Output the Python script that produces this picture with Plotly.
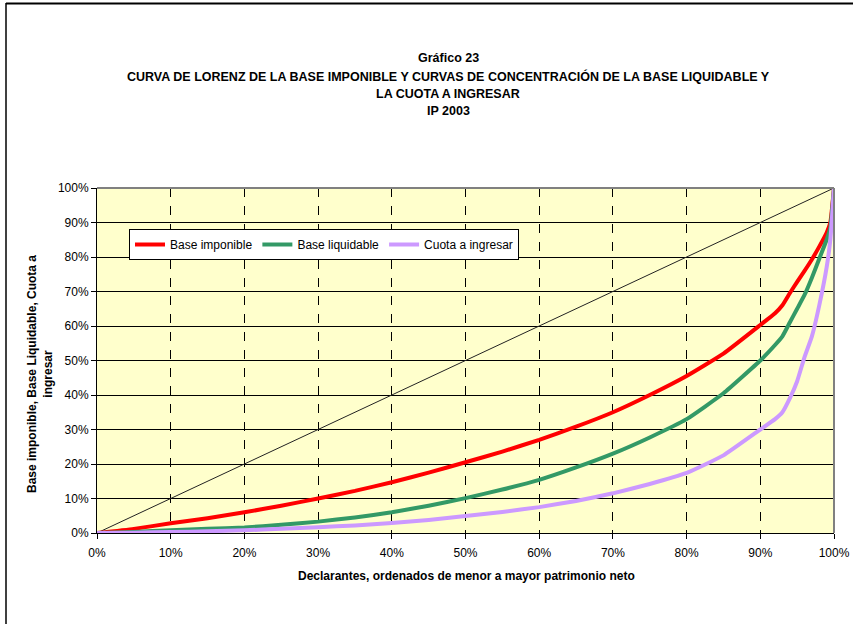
import plotly.graph_objects as go

# Data (percent of declarants vs cumulative percent)
x_pct = [0, 5, 10, 15, 20, 25, 30, 35, 40, 45, 50, 55, 60, 65, 70, 75, 80, 85, 90,
         92, 93, 94, 95, 96, 97, 98, 99, 99.5, 100]
base_imponible = [0, 1.2, 2.8, 4.3, 6.0, 7.9, 10.0, 12.2, 14.7, 17.5, 20.5, 23.6, 27.0, 30.8,
                  35.0, 40.0, 45.5, 52.0, 60.3, 63.7, 66.0, 69.5, 72.8, 76.0, 79.3, 83.0,
                  87.0, 90.0, 100]
base_liquidable = [0, 0.3, 0.8, 1.2, 1.6, 2.4, 3.3, 4.5, 6.0, 7.9, 10.1, 12.6, 15.4, 19.0,
                   23.0, 27.7, 33.0, 40.5, 50.0, 54.5, 57.0, 61.0, 65.0, 69.0, 74.0, 79.5,
                   85.0, 88.5, 100]
cuota = [0, 0.1, 0.3, 0.5, 0.8, 1.2, 1.7, 2.2, 2.9, 3.8, 4.9, 6.1, 7.5, 9.3, 11.5, 14.2,
         17.4, 22.5, 30.0, 33.0, 35.0, 39.0, 44.0, 51.0, 57.0, 66.0, 77.0, 85.0, 100]
diag_x = [0, 100]
diag_y = [0, 100]

title_lines = ["Gráfico 23",
               "CURVA DE LORENZ DE LA BASE IMPONIBLE Y CURVAS DE CONCENTRACIÓN DE LA BASE LIQUIDABLE Y",
               "LA CUOTA A INGRESAR",
               "IP 2003"]
x_title = "Declarantes, ordenados de menor a mayor patrimonio neto"
y_title = "Base imponible, Base Liquidable, Cuota a<br>ingresar"

FONT = "Liberation Sans, Arial, sans-serif"

fig = go.Figure()
fig.add_trace(go.Scatter(x=diag_x, y=diag_y, mode="lines", showlegend=False,
                         line=dict(color="#222222", width=1), hoverinfo="skip"))
fig.add_trace(go.Scatter(x=x_pct, y=base_imponible, mode="lines", name="Base imponible",
                         line=dict(color="#FF0000", width=4, shape="spline", smoothing=0.4)))
fig.add_trace(go.Scatter(x=x_pct, y=base_liquidable, mode="lines", name="Base liquidable",
                         line=dict(color="#339966", width=4, shape="spline", smoothing=0.4)))
fig.add_trace(go.Scatter(x=x_pct, y=cuota, mode="lines", name="Cuota a ingresar",
                         line=dict(color="#CC99FF", width=4, shape="spline", smoothing=0.4)))

W, H = 853, 624
L, R, T, B = 97, 834, 188, 533
pw, ph = R - L, B - T

def px(xp):
    return (xp - L) / pw

def py(yp):
    return (B - yp) / ph

annotations = []
for txt, yy in zip(title_lines, [58, 76, 94, 111]):
    annotations.append(dict(text="<b>%s</b>" % txt, xref="paper", yref="paper",
                            x=px(448), y=py(yy), xanchor="center", yanchor="middle",
                            showarrow=False, font=dict(family=FONT, size=12.5, color="black")))
annotations.append(dict(text="<b>%s</b>" % x_title, xref="paper", yref="paper",
                        x=px(466), y=py(576), xanchor="center", yanchor="middle",
                        showarrow=False, font=dict(family=FONT, size=12, color="black")))
annotations.append(dict(text="<b>%s</b>" % y_title, xref="paper", yref="paper",
                        x=px(40), y=py(374), xanchor="center", yanchor="middle",
                        textangle=-90, showarrow=False,
                        font=dict(family=FONT, size=12, color="black")))

shapes = [
    # outer frame (top & left visible)
    dict(type="line", xref="paper", yref="paper", x0=px(6), x1=px(900), y0=py(3.5), y1=py(3.5),
         line=dict(color="black", width=2)),
    dict(type="line", xref="paper", yref="paper", x0=px(6), x1=px(6), y0=py(3), y1=py(700),
         line=dict(color="black", width=1.5)),
    # plot area top and right borders (gray)
    dict(type="line", xref="paper", yref="paper", x0=0, x1=1, y0=1, y1=1,
         line=dict(color="#808080", width=2)),
    dict(type="line", xref="paper", yref="paper", x0=1, x1=1, y0=0, y1=1,
         line=dict(color="#808080", width=2)),
]

fig.update_layout(
    width=W, height=H, autosize=False,
    margin=dict(l=L, r=W - R, t=T, b=H - B, autoexpand=False),
    paper_bgcolor="white",
    plot_bgcolor="#FFFFCC",
    font=dict(family=FONT, size=12, color="black"),
    annotations=annotations,
    shapes=shapes,
    legend=dict(orientation="h", x=px(129), y=py(229), xanchor="left", yanchor="top",
                bgcolor="white", bordercolor="black", borderwidth=1,
                font=dict(family=FONT, size=12, color="black"),
                itemwidth=30, tracegroupgap=0, itemclick=False),
    xaxis=dict(range=[0, 100], tickvals=list(range(0, 101, 10)),
               ticktext=["%d%%" % v for v in range(0, 101, 10)],
               showgrid=True, gridcolor="black", gridwidth=1, griddash="dash",
               showline=True, linecolor="black", linewidth=1, automargin=False,
               ticks="outside", ticklen=5, tickcolor="black", zeroline=False,
               ticklabelstandoff=4, tickfont=dict(size=12)),
    yaxis=dict(range=[0, 100], tickvals=list(range(0, 101, 10)),
               ticktext=["%d%%" % v for v in range(0, 101, 10)],
               showgrid=True, gridcolor="black", gridwidth=1, automargin=False,
               showline=True, linecolor="black", linewidth=1,
               ticks="outside", ticklen=5, tickcolor="black", zeroline=False,
               tickfont=dict(size=12)),
    showlegend=True,
)

fig.write_html("out.html", config={"displayModeBar": False, "responsive": False},
               post_script="document.body.style.margin='0';")
